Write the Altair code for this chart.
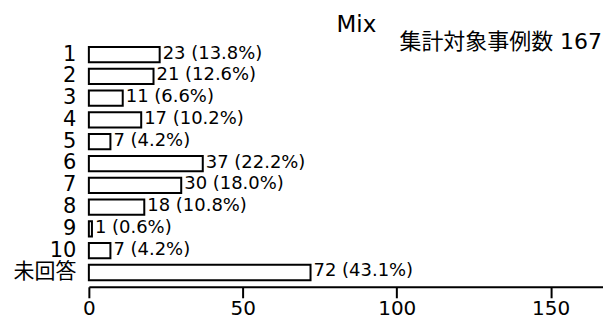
import altair as alt
import pandas as pd

categories = ["1", "2", "3", "4", "5", "6", "7", "8", "9", "10", "未回答"]
counts = [23, 21, 11, 17, 7, 37, 30, 18, 1, 7, 72]
total = 167
title_text = "Mix"
subtitle_text = "集計対象事例数 167"
x_ticks = [0, 50, 100, 150]

df = pd.DataFrame({"cat": categories, "n": counts})
df["label"] = [f"{n} ({n / total * 100:.1f}%)" for n in counts]

FONT = "DejaVu Sans, Noto Sans CJK JP"
W, H = 515, 247

y_enc = alt.Y("cat:N", sort=categories,
              scale=alt.Scale(paddingInner=0.30, paddingOuter=0.306),
              axis=alt.Axis(title=None, domain=False, ticks=False, grid=False, labelPadding=13,
                            labelFontSize=21, labelFont=FONT, labelColor="black"))
x_enc = alt.X("n:Q", scale=alt.Scale(domain=[0, total], nice=False, zero=True),
              axis=alt.Axis(title=None, values=x_ticks, grid=False, domainColor="black",
                            domainWidth=2, tickColor="black", tickWidth=2, tickSize=11,
                            labelFontSize=20, labelFont=FONT, labelColor="black",
                            labelPadding=1, labelFlush=False))

bars = alt.Chart(df).mark_bar(fill="white", stroke="black", strokeWidth=2).encode(
    x=x_enc, y=y_enc)

labels = alt.Chart(df).mark_text(align="left", baseline="middle", dx=3, dy=-1, fontSize=18,
                                 font=FONT, color="black").encode(
    x=alt.X("n:Q"), y=alt.Y("cat:N", sort=categories), text="label:N")

sub = alt.Chart(pd.DataFrame({"t": [subtitle_text]})).mark_text(
    align="right", baseline="alphabetic", fontSize=22, font=FONT, color="black").encode(
    x=alt.value(W - 1), y=alt.value(9), text="t:N")

ttl = alt.Chart(pd.DataFrame({"t": [title_text]})).mark_text(
    align="center", baseline="alphabetic", fontSize=23, font=FONT, color="black").encode(
    x=alt.value(268), y=alt.value(-8), text="t:N")

chart = alt.layer(bars, labels, sub, ttl).properties(
    width=W, height=H,
    background="white",
    autosize=alt.AutoSizeParams(type="none"),
    padding={"left": 81, "top": 32, "right": 0, "bottom": 40},
).configure_view(strokeWidth=0, stroke="transparent").configure_axis(grid=False)

chart.save("out.html", embed_options={"renderer": "svg", "actions": False})
